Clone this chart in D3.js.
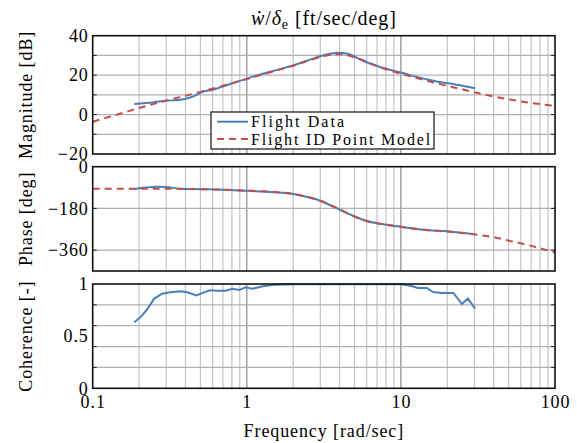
<!DOCTYPE html>
<html>
<head>
<meta charset="utf-8">
<script src="https://cdn.jsdelivr.net/npm/d3@7"></script>
<style>
  body { margin: 0; background: #fff; }
  text { font-family: "Liberation Serif", serif; fill: #000; letter-spacing: 0.9px; }
</style>
</head>
<body>
<svg id="chart" width="577" height="443"></svg>
<script>
// flight data (blue), frequency in rad/sec
var dataFreq = [0.186, 0.25, 0.29, 0.39, 0.45, 0.51, 0.6, 0.68, 0.87, 1.23, 1.6, 2.04, 2.6, 3.2, 3.9, 4.5, 5.8, 7.5, 10, 14.3, 17, 20.3, 25, 30.4];
var dataMag = [5.4, 6.3, 6.9, 7.8, 9.2, 11.4, 12.6, 13.9, 16.7, 20.4, 22.8, 25.1, 28.0, 30.2, 31.4, 30.8, 26.9, 23.9, 21.3, 18.1, 16.8, 15.9, 14.6, 13.3];

var phaseFreq = [0.186, 0.22, 0.26, 0.3, 0.37, 0.5, 0.7, 1, 1.5, 2, 2.5, 3, 3.5, 4, 4.5, 5, 6, 7, 8, 10, 14, 20, 30.4];
var dataPhase = [-97, -90, -86, -88, -95, -97, -99, -104, -110, -118, -132, -147, -167, -185, -201, -215, -234, -244, -250, -259, -272, -279, -292];

// point model (red dashed)
var modelFreqMag = [0.1, 0.15, 0.2, 0.3, 0.4, 0.5, 0.7, 1, 1.5, 2, 2.5, 3, 3.5, 4, 4.5, 5, 6, 7, 8, 10, 13, 16, 20, 25, 30, 40, 53, 70, 100];
var modelMag = [-3.6, 0.4, 3.3, 7.1, 9.5, 11.5, 14.6, 18.0, 22.0, 24.8, 27.3, 29.2, 30.3, 30.6, 30.1, 29.0, 26.8, 24.6, 23.0, 20.7, 18.3, 16.4, 14.6, 12.8, 11.3, 9.2, 7.4, 5.9, 4.4];

var modelFreqPhase = [0.1, 0.2, 0.3, 0.5, 0.7, 1, 1.5, 2, 2.5, 3, 3.5, 4, 4.5, 5, 6, 7, 8, 10, 14, 20, 30, 40, 53, 65, 80, 100];
var modelPhase = [-95, -95, -95.5, -97, -99, -103, -109, -117, -131, -147, -166, -184, -201, -215, -234, -244, -250, -259, -272, -280, -292, -304, -323, -336, -352, -370];

// coherence
var cohFreq = [0.186, 0.204, 0.225, 0.251, 0.282, 0.319, 0.371, 0.41, 0.472, 0.526, 0.58, 0.643, 0.73, 0.81, 0.89, 0.98, 1.09, 1.27, 1.51, 2.04, 4, 7, 10.1, 11.7, 12.9, 14.7, 16.2, 18.5, 21.9, 24.9, 27.2, 30.4];
var cohVal = [0.633, 0.68, 0.754, 0.86, 0.907, 0.92, 0.93, 0.92, 0.89, 0.92, 0.94, 0.936, 0.936, 0.955, 0.942, 0.968, 0.955, 0.978, 0.993, 0.997, 0.998, 0.998, 0.997, 0.98, 0.962, 0.962, 0.923, 0.914, 0.914, 0.808, 0.86, 0.763];

var xTicks = [0.1, 1, 10, 100];
var magTicks = [40, 20, 0, -20];
var phaseTicks = [0, -180, -360];
var cohTicks = [0, 0.5, 1];

var svg = d3.select("#chart");
var left = 92.7, right = 555;
var blue = "#4a7ebb", red = "#c0504d";
var fs = 18;

var x = d3.scaleLog().domain([0.1, 100]).range([left, right]);

// all minor grid positions on the log axis
var xGrid = [];
[0.1, 1, 10].forEach(function(d) {
    for (var k = 1; k <= 9; k++) xGrid.push(d * k);
});

var fmt = function(d) { return d < 0 ? "\u2212" + Math.abs(d) : String(d); };

function panel(top, bottom, domain, gridVals, labelVals, title) {
    var y = d3.scaleLinear().domain(domain).range([bottom, top]);
    var g = svg.append("g");

    // vertical grid
    g.selectAll(".vg").data(xGrid.filter(function(d) { return d > 0.1 && d < 100; }))
      .enter().append("line")
        .attr("x1", function(d) { return x(d); })
        .attr("x2", function(d) { return x(d); })
        .attr("y1", top).attr("y2", bottom)
        .attr("stroke", function(d) { return (d === 1 || d === 10) ? "#8a8a8a" : "#c4c4c4"; })
        .attr("stroke-width", 1.2);

    // horizontal grid
    g.selectAll(".hg").data(gridVals)
      .enter().append("line")
        .attr("x1", left).attr("x2", right)
        .attr("y1", function(d) { return y(d); })
        .attr("y2", function(d) { return y(d); })
        .attr("stroke", "#b0b0b0")
        .attr("stroke-width", 1.2);

    // small ticks inside the frame
    g.selectAll(".tk").data(gridVals)
      .enter().append("path")
        .attr("d", function(d) {
            return "M" + left + "," + y(d) + "h4M" + right + "," + y(d) + "h-4";
        })
        .attr("stroke", "#222")
        .attr("stroke-width", 1);

    // tick labels
    g.append("g")
        .attr("transform", "translate(" + left + ",0)")
        .call(d3.axisLeft(y).tickValues(labelVals).tickSize(0).tickPadding(4).tickFormat(fmt))
        .call(function(a) {
            a.select(".domain").remove();
            a.selectAll("text").attr("font-size", fs).attr("font-family", "Liberation Serif");
        });

    // y label
    svg.append("text")
        .attr("transform", "translate(32," + ((top + bottom) / 2) + ") rotate(-90)")
        .attr("text-anchor", "middle")
        .attr("font-size", fs)
        .text(title);

    return { y: y, g: g, top: top, bottom: bottom };
}

var pMag = panel(35.7, 154, [-20, 40], [-10, 0, 10, 20, 30], magTicks, "Magnitude [dB]");
var pPh = panel(166.7, 271, [-450, 0], [-180, -360], phaseTicks, "Phase [deg]");
var pCoh = panel(284, 388.3, [0, 1], [0.2, 0.4, 0.6, 0.8], cohTicks, "Coherence [-]");

function drawLine(p, xs, ys, color, dashed, curve) {
    var line = d3.line()
        .x(function(d) { return x(d[0]); })
        .y(function(d) { return p.y(d[1]); })
        .curve(curve);
    p.g.append("path")
        .datum(d3.zip(xs, ys))
        .attr("d", line)
        .attr("fill", "none")
        .attr("stroke", color)
        .attr("stroke-width", 2)
        .attr("stroke-dasharray", dashed ? "7,5" : null);
}

drawLine(pMag, dataFreq, dataMag, blue, false, d3.curveMonotoneX);
drawLine(pMag, modelFreqMag, modelMag, red, true, d3.curveMonotoneX);
drawLine(pPh, phaseFreq, dataPhase, blue, false, d3.curveMonotoneX);
drawLine(pPh, modelFreqPhase, modelPhase, red, true, d3.curveMonotoneX);
drawLine(pCoh, cohFreq, cohVal, blue, false, d3.curveLinear);

// frames
[pMag, pPh, pCoh].forEach(function(p) {
    svg.append("rect")
        .attr("x", left).attr("y", p.top)
        .attr("width", right - left).attr("height", p.bottom - p.top)
        .attr("fill", "none")
        .attr("stroke", "#111")
        .attr("stroke-width", 1.6);
});

// x axis labels
svg.append("g")
    .attr("transform", "translate(0," + pCoh.bottom + ")")
    .call(d3.axisBottom(x).tickValues(xTicks).tickSize(0).tickPadding(7).tickFormat(function(d) { return String(d); }))
    .call(function(a) {
        a.select(".domain").remove();
        a.selectAll("text").attr("font-size", fs).attr("font-family", "Liberation Serif");
    });

svg.append("text")
    .attr("x", (left + right) / 2).attr("y", 437)
    .attr("text-anchor", "middle")
    .attr("font-size", fs)
    .text("Frequency [rad/sec]");

// title
var t = svg.append("text")
    .attr("x", (left + right) / 2).attr("y", 25)
    .attr("text-anchor", "middle")
    .attr("font-size", 20);
t.append("tspan").attr("font-style", "italic").text("\u1E87");
t.append("tspan").text("/");
t.append("tspan").attr("font-style", "italic").text("\u03B4");
t.append("tspan").attr("font-size", 14).attr("dy", 4).text("e");
t.append("tspan").attr("dy", -4).text(" [ft/sec/deg]");

// legend
var lg = svg.append("g");
lg.append("rect")
    .attr("x", 211).attr("y", 112).attr("width", 223).attr("height", 37)
    .attr("fill", "#fff").attr("stroke", "#111").attr("stroke-width", 1.2);
lg.append("line").attr("x1", 217).attr("x2", 248).attr("y1", 121.7).attr("y2", 121.7)
    .attr("stroke", blue).attr("stroke-width", 2);
lg.append("line").attr("x1", 217).attr("x2", 248).attr("y1", 139).attr("y2", 139)
    .attr("stroke", red).attr("stroke-width", 2).attr("stroke-dasharray", "7,5");
lg.append("text").attr("x", 251).attr("y", 126.5).attr("font-size", 16)
    .attr("textLength", 94).attr("lengthAdjust", "spacing").text("Flight Data");
lg.append("text").attr("x", 251).attr("y", 145).attr("font-size", 16)
    .attr("textLength", 180).attr("lengthAdjust", "spacing").text("Flight ID Point Model");
</script>
</body>
</html>
